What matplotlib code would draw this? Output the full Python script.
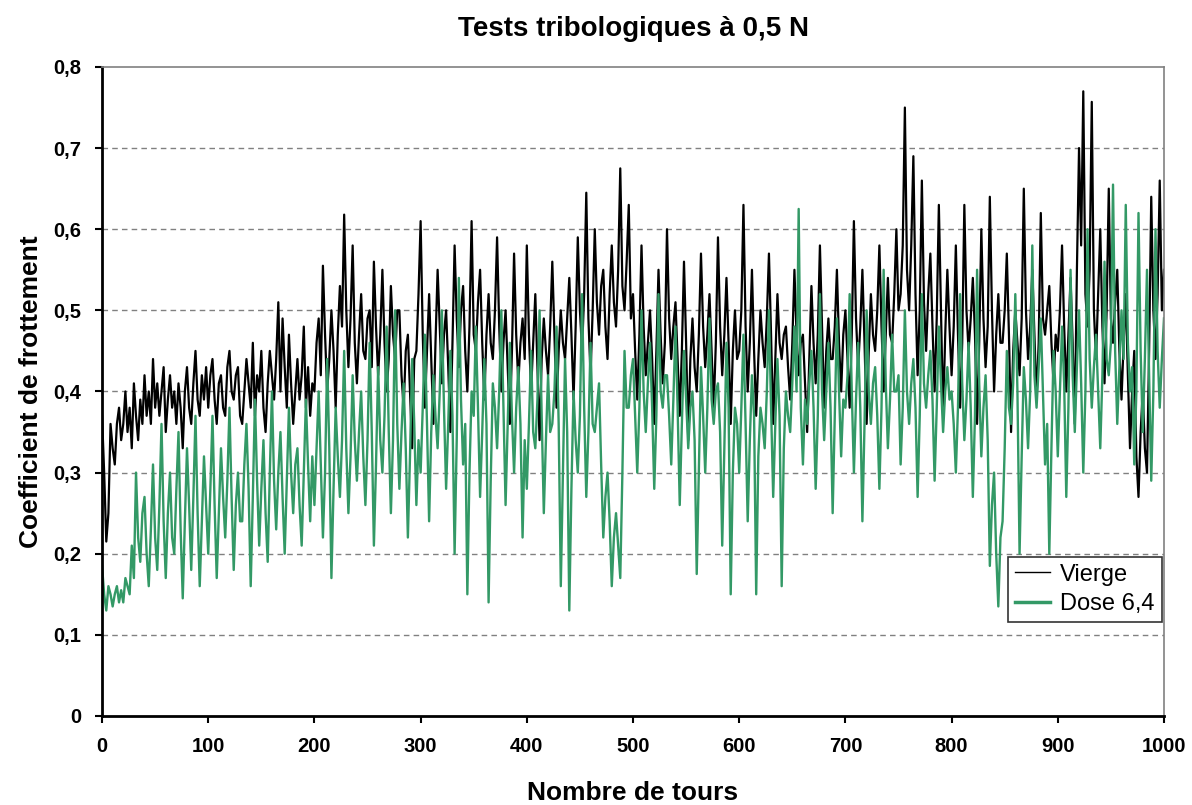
import numpy as np
import matplotlib
matplotlib.use("Agg")
import matplotlib.pyplot as plt
from matplotlib.ticker import FuncFormatter

# Nombre de tours, one sample every 2 tours
tours = np.arange(0, 1001, 2)

# Vierge (black), 50 values per 100 tours
vierge = [
    0.37, 0.30, 0.215, 0.25, 0.36, 0.33, 0.31, 0.36, 0.38, 0.34,
    0.36, 0.40, 0.35, 0.38, 0.33, 0.41, 0.37, 0.34, 0.39, 0.36,
    0.42, 0.37, 0.40, 0.36, 0.44, 0.38, 0.41, 0.37, 0.40, 0.43,
    0.35, 0.39, 0.42, 0.38, 0.40, 0.36, 0.41, 0.38, 0.33, 0.40,
    0.43, 0.38, 0.36, 0.41, 0.45, 0.39, 0.37, 0.42, 0.39, 0.43,
    # 100
    0.38, 0.42, 0.44, 0.39, 0.36, 0.41, 0.42, 0.38, 0.37, 0.43,
    0.45, 0.40, 0.39, 0.42, 0.43, 0.37, 0.36, 0.40, 0.44, 0.41,
    0.38, 0.46, 0.37, 0.42, 0.40, 0.45, 0.38, 0.35, 0.41, 0.45,
    0.42, 0.39, 0.44, 0.51, 0.40, 0.49, 0.43, 0.38, 0.47, 0.41,
    0.36, 0.40, 0.44, 0.39, 0.42, 0.48, 0.38, 0.43, 0.37, 0.41,
    # 200
    0.40, 0.46, 0.49, 0.42, 0.555, 0.47, 0.40, 0.44, 0.50, 0.45,
    0.38, 0.47, 0.53, 0.48, 0.618, 0.50, 0.43, 0.49, 0.58, 0.46,
    0.41, 0.47, 0.52, 0.45, 0.44, 0.49, 0.50, 0.43, 0.56, 0.48,
    0.42, 0.47, 0.55, 0.46, 0.40, 0.44, 0.53, 0.47, 0.44, 0.50,
    0.50, 0.42, 0.38, 0.45, 0.47, 0.40, 0.33, 0.44, 0.45, 0.52,
    # 300
    0.61, 0.47, 0.38, 0.45, 0.52, 0.44, 0.36, 0.46, 0.55, 0.48,
    0.41, 0.47, 0.50, 0.43, 0.35, 0.46, 0.58, 0.49, 0.43, 0.50,
    0.53, 0.45, 0.40, 0.48, 0.61, 0.47, 0.45, 0.51, 0.55, 0.46,
    0.39, 0.47, 0.52, 0.46, 0.44, 0.50, 0.59, 0.48, 0.40, 0.46,
    0.50, 0.43, 0.36, 0.45, 0.57, 0.47, 0.41, 0.46, 0.49, 0.44,
    # 400
    0.58, 0.47, 0.40, 0.46, 0.52, 0.43, 0.34, 0.44, 0.49, 0.45,
    0.42, 0.48, 0.56, 0.47, 0.38, 0.45, 0.50, 0.46, 0.44, 0.49,
    0.54, 0.47, 0.39, 0.48, 0.59, 0.50, 0.45, 0.52, 0.645, 0.49,
    0.42, 0.50, 0.60, 0.51, 0.47, 0.53, 0.55, 0.48, 0.44, 0.52,
    0.58, 0.51, 0.48, 0.55, 0.675, 0.53, 0.50, 0.56, 0.63, 0.49,
    # 500
    0.52, 0.45, 0.39, 0.47, 0.58, 0.48, 0.42, 0.46, 0.50, 0.44,
    0.36, 0.45, 0.55, 0.47, 0.41, 0.46, 0.60, 0.49, 0.44, 0.48,
    0.51, 0.44, 0.37, 0.45, 0.56, 0.46, 0.34, 0.44, 0.49, 0.43,
    0.40, 0.47, 0.57, 0.48, 0.43, 0.47, 0.52, 0.45, 0.38, 0.46,
    0.59, 0.48, 0.42, 0.47, 0.54, 0.46, 0.36, 0.45, 0.50, 0.44,
    # 600
    0.45, 0.50, 0.63, 0.48, 0.40, 0.46, 0.55, 0.45, 0.37, 0.44,
    0.50, 0.46, 0.43, 0.49, 0.57, 0.47, 0.36, 0.44, 0.52, 0.46,
    0.44, 0.47, 0.48, 0.43, 0.39, 0.46, 0.55, 0.47, 0.42, 0.46,
    0.47, 0.41, 0.35, 0.44, 0.53, 0.46, 0.41, 0.47, 0.58, 0.48,
    0.38, 0.45, 0.49, 0.44, 0.44, 0.48, 0.55, 0.46, 0.40, 0.47,
    # 700
    0.50, 0.44, 0.38, 0.47, 0.61, 0.49, 0.43, 0.48, 0.55, 0.46,
    0.36, 0.45, 0.52, 0.47, 0.45, 0.50, 0.58, 0.48, 0.40, 0.47,
    0.54, 0.47, 0.46, 0.52, 0.60, 0.50, 0.52, 0.58, 0.75, 0.55,
    0.50, 0.58, 0.69, 0.52, 0.42, 0.50, 0.66, 0.51, 0.45, 0.52,
    0.57, 0.48, 0.40, 0.49, 0.63, 0.50, 0.37, 0.47, 0.55, 0.48,
    # 800
    0.42, 0.48, 0.58, 0.47, 0.38, 0.46, 0.63, 0.50, 0.45, 0.49,
    0.54, 0.47, 0.36, 0.46, 0.60, 0.49, 0.43, 0.48, 0.64, 0.50,
    0.40, 0.47, 0.52, 0.46, 0.46, 0.50, 0.57, 0.47, 0.35, 0.45,
    0.50, 0.46, 0.42, 0.49, 0.65, 0.50, 0.44, 0.48, 0.55, 0.47,
    0.39, 0.46, 0.62, 0.49, 0.47, 0.50, 0.53, 0.46, 0.41, 0.47,
    # 900
    0.45, 0.50, 0.58, 0.48, 0.40, 0.47, 0.54, 0.46, 0.36, 0.55,
    0.70, 0.58, 0.77, 0.52, 0.48, 0.55, 0.757, 0.50, 0.44, 0.52,
    0.60, 0.48, 0.41, 0.50, 0.65, 0.49, 0.46, 0.51, 0.55, 0.45,
    0.39, 0.46, 0.52, 0.42, 0.33, 0.40, 0.45, 0.32, 0.27, 0.35,
    0.40, 0.33, 0.30, 0.45, 0.64, 0.50, 0.44, 0.52, 0.66, 0.50,
    0.55,
]

# Dose 6,4 (green)
dose = [
    0.185, 0.15, 0.13, 0.16, 0.15, 0.135, 0.15, 0.16, 0.14, 0.155,
    0.14, 0.17, 0.16, 0.15, 0.21, 0.17, 0.30, 0.22, 0.19, 0.25,
    0.27, 0.20, 0.16, 0.23, 0.31, 0.22, 0.18, 0.26, 0.36, 0.24,
    0.17, 0.25, 0.30, 0.22, 0.20, 0.28, 0.35, 0.23, 0.145, 0.24,
    0.33, 0.26, 0.18, 0.27, 0.37, 0.25, 0.16, 0.24, 0.32, 0.26,
    # 100
    0.20, 0.28, 0.37, 0.26, 0.17, 0.25, 0.33, 0.27, 0.22, 0.29,
    0.38, 0.27, 0.18, 0.26, 0.30, 0.24, 0.24, 0.31, 0.36, 0.28,
    0.16, 0.27, 0.39, 0.29, 0.21, 0.28, 0.34, 0.25, 0.19, 0.30,
    0.40, 0.29, 0.23, 0.30, 0.35, 0.27, 0.20, 0.29, 0.38, 0.30,
    0.25, 0.31, 0.33, 0.26, 0.21, 0.30, 0.39, 0.31, 0.24, 0.32,
    # 200
    0.26, 0.33, 0.40, 0.31, 0.22, 0.30, 0.44, 0.33, 0.17, 0.28,
    0.38, 0.32, 0.27, 0.34, 0.45, 0.33, 0.25, 0.32, 0.42, 0.34,
    0.29, 0.35, 0.40, 0.32, 0.26, 0.34, 0.46, 0.35, 0.21, 0.31,
    0.43, 0.34, 0.30, 0.37, 0.48, 0.35, 0.25, 0.34, 0.50, 0.36,
    0.28, 0.35, 0.41, 0.33, 0.22, 0.32, 0.44, 0.36, 0.26, 0.34,
    # 300
    0.30, 0.38, 0.47, 0.36, 0.24, 0.35, 0.42, 0.37, 0.33, 0.40,
    0.50, 0.38, 0.28, 0.36, 0.45, 0.37, 0.20, 0.34, 0.54, 0.39,
    0.31, 0.36, 0.15, 0.30, 0.40, 0.37, 0.48, 0.38, 0.27, 0.35,
    0.44, 0.36, 0.14, 0.29, 0.41, 0.38, 0.33, 0.40, 0.50, 0.38,
    0.26, 0.36, 0.46, 0.37, 0.30, 0.38, 0.43, 0.36, 0.22, 0.34,
    # 400
    0.28, 0.36, 0.45, 0.35, 0.33, 0.39, 0.50, 0.37, 0.25, 0.34,
    0.42, 0.35, 0.36, 0.40, 0.48, 0.36, 0.16, 0.30, 0.44, 0.35,
    0.13, 0.28, 0.40, 0.34, 0.30, 0.37, 0.52, 0.38, 0.27, 0.35,
    0.46, 0.36, 0.35, 0.38, 0.41, 0.31, 0.22, 0.27, 0.30, 0.24,
    0.16, 0.22, 0.25, 0.21, 0.17, 0.30, 0.45, 0.38, 0.38, 0.42,
    # 500
    0.44, 0.37, 0.30, 0.38, 0.50, 0.40, 0.35, 0.41, 0.46, 0.38,
    0.28, 0.37, 0.52, 0.40, 0.38, 0.42, 0.42, 0.37, 0.31, 0.39,
    0.48, 0.38, 0.26, 0.36, 0.45, 0.39, 0.33, 0.38, 0.40, 0.34,
    0.175, 0.30, 0.43, 0.37, 0.30, 0.38, 0.49, 0.39, 0.36, 0.40,
    0.41, 0.35, 0.21, 0.33, 0.46, 0.38, 0.15, 0.30, 0.38, 0.36,
    # 600
    0.30, 0.38, 0.47, 0.36, 0.24, 0.34, 0.42, 0.37, 0.15, 0.32,
    0.38, 0.36, 0.33, 0.40, 0.50, 0.38, 0.27, 0.36, 0.44, 0.37,
    0.16, 0.33, 0.40, 0.37, 0.35, 0.41, 0.48, 0.40, 0.625, 0.38,
    0.31, 0.39, 0.36, 0.41, 0.45, 0.38, 0.28, 0.37, 0.52, 0.40,
    0.34, 0.40, 0.46, 0.38, 0.25, 0.37, 0.49, 0.40, 0.32, 0.39,
    # 700
    0.38, 0.42, 0.52, 0.40, 0.30, 0.39, 0.46, 0.38, 0.24, 0.36,
    0.50, 0.40, 0.36, 0.41, 0.43, 0.37, 0.28, 0.38, 0.55, 0.41,
    0.33, 0.39, 0.47, 0.40, 0.40, 0.42, 0.31, 0.38, 0.50, 0.40,
    0.36, 0.41, 0.44, 0.38, 0.27, 0.37, 0.52, 0.41, 0.38, 0.42,
    0.45, 0.39, 0.29, 0.38, 0.48, 0.41, 0.35, 0.40, 0.43, 0.39,
    # 800
    0.40, 0.36, 0.30, 0.38, 0.52, 0.41, 0.34, 0.39, 0.46, 0.38,
    0.27, 0.37, 0.55, 0.41, 0.32, 0.38, 0.42, 0.34, 0.185, 0.26,
    0.30, 0.20, 0.135, 0.22, 0.24, 0.33, 0.45, 0.38, 0.36, 0.41,
    0.52, 0.40, 0.20, 0.32, 0.43, 0.39, 0.33, 0.40, 0.58, 0.42,
    0.38, 0.43, 0.49, 0.40, 0.31, 0.36, 0.20, 0.33, 0.45, 0.40,
    # 900
    0.32, 0.40, 0.48, 0.41, 0.27, 0.38, 0.55, 0.42, 0.35, 0.43,
    0.50, 0.41, 0.30, 0.40, 0.60, 0.44, 0.38, 0.43, 0.47, 0.40,
    0.33, 0.42, 0.56, 0.44, 0.42, 0.46, 0.655, 0.45, 0.36, 0.43,
    0.50, 0.44, 0.63, 0.46, 0.40, 0.43, 0.31, 0.40, 0.62, 0.45,
    0.35, 0.44, 0.55, 0.42, 0.29, 0.40, 0.60, 0.45, 0.38, 0.44,
    0.49,
]

series_names = ["Vierge", "Dose 6,4"]
title = "Tests tribologiques à 0,5 N"
x_label = "Nombre de tours"
y_label = "Coefficient de frottement"

plt.rcParams['font.family'] = ['Liberation Sans', 'DejaVu Sans']

fig = plt.figure(figsize=(11.92, 8.05), dpi=100)
ax = fig.add_axes([0.0856, 0.1106, 0.8909, 0.8062])

ax.plot(tours, vierge, color='black', linewidth=1.6, label=series_names[0])
ax.plot(tours, dose, color='#339966', linewidth=1.7, label=series_names[1])

ax.set_xlim(0, 1000)
ax.set_ylim(0, 0.8)
ax.set_xticks(np.arange(0, 1001, 100))
ax.set_yticks(np.arange(0, 0.81, 0.1))
ax.yaxis.set_major_formatter(FuncFormatter(lambda v, p: "0" if abs(v) < 1e-9 else f"{v:.1f}".replace(".", ",")))

for y in np.arange(0.1, 0.75, 0.1):
    ax.axhline(y, color='#808080', linestyle=(0, (4, 3)), linewidth=1.0, zorder=0)

for side in ['top', 'right']:
    ax.spines[side].set_color('#808080')
    ax.spines[side].set_linewidth(1.2)
for side in ['left', 'bottom']:
    ax.spines[side].set_color('black')
    ax.spines[side].set_linewidth(2.0)

ax.tick_params(axis='both', direction='out', length=5, width=1.5, labelsize=14.5, pad=10)
for lbl in ax.get_xticklabels() + ax.get_yticklabels():
    lbl.set_fontweight('bold')

ax.set_title(title, fontsize=20, fontweight='bold', pad=22)
ax.set_xlabel(x_label, fontsize=19, fontweight='bold', labelpad=18)
ax.set_ylabel(y_label, fontsize=19, fontweight='bold', labelpad=7)

leg = ax.legend(loc='lower right', bbox_to_anchor=(0.998, 0.145), fontsize=17,
                frameon=True, fancybox=False, handlelength=1.45, borderpad=0.3,
                labelspacing=0.3, handletextpad=0.45, borderaxespad=0.0)
leg.get_frame().set_edgecolor('black')
leg.get_frame().set_linewidth(1.2)
leg.legend_handles[0].set_linewidth(1.0)
leg.legend_handles[1].set_linewidth(2.5)

plt.savefig('out.png', dpi=100)
